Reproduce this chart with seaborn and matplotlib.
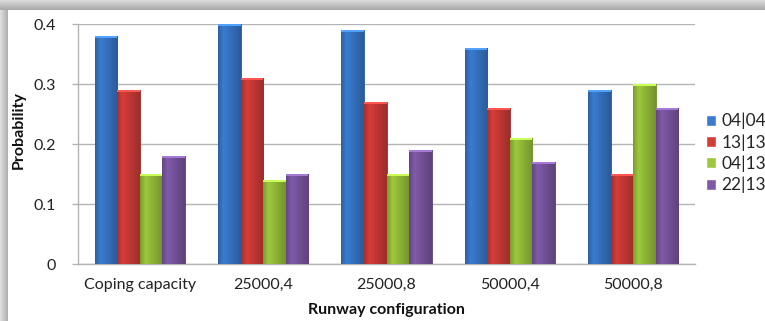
import numpy as np
import pandas as pd
import matplotlib
matplotlib.use("Agg")
import matplotlib.pyplot as plt
import matplotlib.colors as mcolors
import seaborn as sns

configs = ["Coping capacity", "25000,4", "25000,8", "50000,4", "50000,8"]
runways = ["04|04", "13|13", "04|13", "22|13"]
p_0404 = [0.38, 0.40, 0.39, 0.36, 0.29]
p_1313 = [0.29, 0.31, 0.27, 0.26, 0.15]
p_0413 = [0.15, 0.14, 0.15, 0.21, 0.30]
p_2213 = [0.18, 0.15, 0.19, 0.17, 0.26]
y_ticks = [0, 0.1, 0.2, 0.3, 0.4]
y_tick_labels = ["0", "0.1", "0.2", "0.3", "0.4"]
colors = ["#3a7bd0", "#d53d3a", "#9cc83c", "#7f5aa8"]

series = [p_0404, p_1313, p_0413, p_2213]
df = pd.DataFrame({
    "config": [c for s in series for c in configs],
    "runway": [r for r, s in zip(runways, series) for _ in configs],
    "prob": [v for s in series for v in s],
})

sns.set_theme(style="white")
plt.rcParams["font.family"] = ["Lato", "DejaVu Sans"]

W, H = 765, 321
fig = plt.figure(figsize=(W / 100, H / 100), dpi=100)
fig.patch.set_facecolor("white")

# shaded frame along the top and left edges
top = fig.add_axes([0, 1 - 10 / H, 1, 10 / H])
grad_v = np.linspace(0.86, 0.66, 50).reshape(-1, 1)
top.imshow(np.repeat(grad_v, 2, axis=1), cmap="gray", vmin=0, vmax=1,
           aspect="auto", extent=[0, 1, 0, 1])
top.set_axis_off()
left = fig.add_axes([0, 0, 8 / W, 1 - 10 / H])
grad_h = np.linspace(0.88, 0.68, 50).reshape(1, -1)
left.imshow(np.repeat(grad_h, 2, axis=0), cmap="gray", vmin=0, vmax=1,
            aspect="auto", extent=[0, 1, 0, 1])
left.set_axis_off()

ax = fig.add_axes([78 / W, 1 - 264 / H, 617 / W, 240 / H])
sns.barplot(data=df, x="config", y="prob", hue="runway", order=configs,
            hue_order=runways, palette=colors, width=0.73, saturation=1,
            errorbar=None, ax=ax, zorder=3)

# bevelled shading on each bar
shade = np.concatenate([np.linspace(0.78, 1.0, 10), np.linspace(1.0, 0.74, 30)])
for patch in list(ax.patches):
    if patch.get_height() <= 0:
        continue
    x0, y0 = patch.get_x(), patch.get_y()
    w, h = patch.get_width(), patch.get_height()
    base = np.array(mcolors.to_rgb(patch.get_facecolor()))
    img = np.clip(base[None, None, :] * shade[None, :, None], 0, 1)
    img = np.repeat(img, 2, axis=0)
    im = ax.imshow(img, extent=[x0, x0 + w, y0, y0 + h], aspect="auto",
                   zorder=4, interpolation="bilinear")
    im.set_clip_path(patch)
    cap_h = 0.0035
    cap = np.clip(base * 1.2 + 0.05, 0, 1)
    ax.add_patch(plt.Rectangle((x0, y0 + h - cap_h), w, cap_h, color=cap,
                               zorder=5, lw=0))
    patch.set_edgecolor(tuple(base * 0.7))
    patch.set_linewidth(0.6)

ax.set_xlim(-0.5, 4.5)
ax.set_ylim(0, 0.4)
ax.set_yticks(y_ticks)
ax.set_yticklabels(y_tick_labels)
ax.yaxis.grid(True, color="#b4b4b4", linewidth=1.0, zorder=0)
ax.set_axisbelow(True)
for side in ["top", "right"]:
    ax.spines[side].set_visible(False)
for side in ["left", "bottom"]:
    ax.spines[side].set_color("#b4b4b4")
    ax.spines[side].set_linewidth(1.0)
ax.tick_params(axis="y", length=4, width=1, color="#b4b4b4", left=True,
               labelsize=11.5, pad=12, labelcolor="#222222")
ax.tick_params(axis="x", length=0, labelsize=11.5, pad=10, labelcolor="#222222")
ax.set_xlabel("Runway configuration", fontsize=11.5, fontweight="bold",
              color="#111111")
ax.xaxis.set_label_coords(0.5, -(303 - 264) / 240)
ax.set_ylabel("Probability", fontsize=11.5, fontweight="bold", color="#111111")
ax.yaxis.set_label_coords((26 - 78) / 617, (264 - 130) / 240)

handles, labels = ax.get_legend_handles_labels()
leg = ax.legend(handles, labels, loc="center left",
                bbox_to_anchor=((706 - 78) / 617, (264 - 153) / 240),
                frameon=False, fontsize=12.5, handlelength=0.6,
                handleheight=0.6, handletextpad=0.3, labelspacing=0.28,
                borderaxespad=0, borderpad=0)

fig.savefig("out.png", dpi=100)
